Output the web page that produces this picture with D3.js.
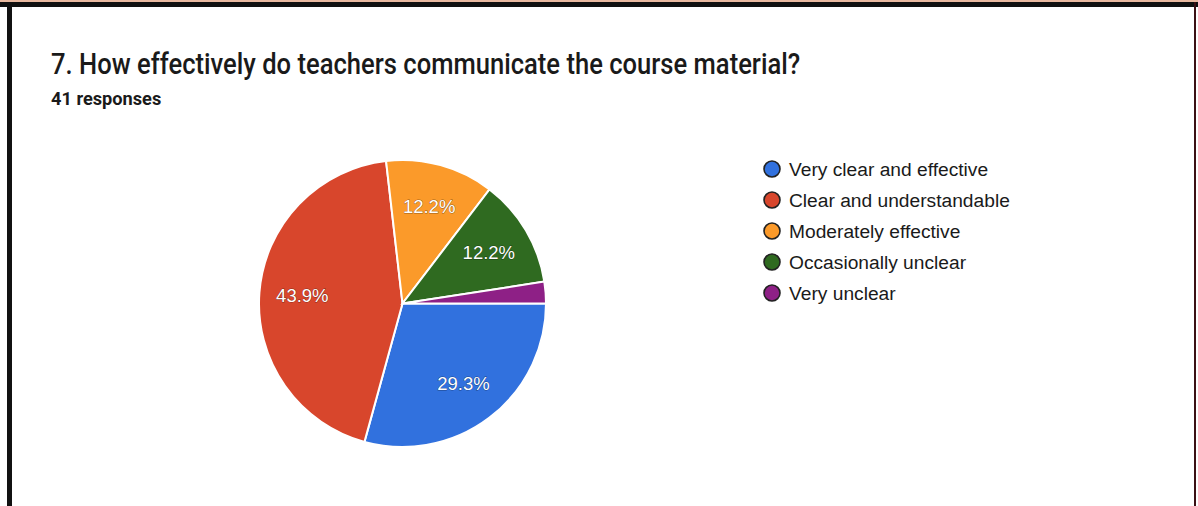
<!DOCTYPE html>
<html>
<head>
<meta charset="utf-8">
<script src="https://cdn.jsdelivr.net/npm/d3@7"></script>
<style>
  html, body { margin: 0; padding: 0; background: #fff; }
  svg { display: block; }
</style>
</head>
<body>
<svg id="chart" width="1198" height="506"></svg>
<script>
const categories = ["Very clear and effective", "Clear and understandable", "Moderately effective", "Occasionally unclear", "Very unclear"];
const counts = [12, 18, 5, 5, 1];
const percentLabels = ["29.3%", "43.9%", "12.2%", "12.2%", ""];
const colors = ["#3171de", "#d8462c", "#fb9a2a", "#2f6a20", "#8e2086"];
const titleText = "7. How effectively do teachers communicate the course material?";
const subtitleText = "41 responses";

const svg = d3.select("#chart");
const W = 1198, H = 506;

svg.append("rect").attr("x", 0).attr("y", 0).attr("width", W).attr("height", H).attr("fill", "#fff");
svg.append("rect").attr("x", 0).attr("y", 0).attr("width", W).attr("height", 3).attr("fill", "#e9b9a0");

// frame
svg.append("rect").attr("x", 0).attr("y", 2).attr("width", W).attr("height", 5).attr("fill", "#111");
svg.append("rect").attr("x", 7).attr("y", 2).attr("width", 5).attr("height", H).attr("fill", "#111");
svg.append("rect").attr("x", 1194).attr("y", 2).attr("width", 2).attr("height", H).attr("fill", "#3a1014");

svg.append("text")
  .attr("transform", "translate(51,74) scale(1,1.12)")
  .attr("font-family", "Roboto, 'Noto Sans', sans-serif")
  .attr("font-size", 25.6)
  .attr("font-weight", 500)
  .attr("fill", "#1a1a1a")
  .text(titleText);

svg.append("text")
  .attr("transform", "translate(51,105) scale(1,1.05)")
  .attr("font-family", "Roboto, 'Noto Sans', sans-serif")
  .attr("font-size", 18.2)
  .attr("font-weight", "bold")
  .attr("fill", "#1a1a1a")
  .text(subtitleText);

const cx = 402.5, cy = 303.5, R = 143.5;
const pie = d3.pie().sort(null).value(d => d)
  .startAngle(Math.PI / 2).endAngle(Math.PI / 2 + 2 * Math.PI);
const arcs = pie(counts);
const arc = d3.arc().innerRadius(0).outerRadius(R);
const labelArc = d3.arc().innerRadius(R * 0.7).outerRadius(R * 0.7);

const g = svg.append("g").attr("transform", `translate(${cx},${cy})`);
g.selectAll("path.slice").data(arcs).join("path")
  .attr("class", "slice")
  .attr("d", arc)
  .attr("fill", (d, i) => colors[i])
  .attr("stroke", "#fff")
  .attr("stroke-width", 2);

g.selectAll("text.lbl").data(arcs).join("text")
  .attr("class", "lbl")
  .attr("transform", d => `translate(${labelArc.centroid(d)})`)
  .attr("text-anchor", "middle")
  .attr("dy", "0.35em")
  .attr("font-family", "Arial, 'Liberation Sans', sans-serif")
  .attr("font-size", 18.5)
  .attr("fill", "#fff")
  .attr("stroke", "rgba(0,0,0,0.45)")
  .attr("stroke-width", 0.8)
  .attr("paint-order", "stroke")
  .text((d, i) => percentLabels[i]);

const legend = svg.append("g").attr("transform", "translate(772,169)");
const items = legend.selectAll("g").data(categories).join("g")
  .attr("transform", (d, i) => `translate(0,${i * 31})`);
items.append("circle")
  .attr("r", 8)
  .attr("fill", (d, i) => colors[i])
  .attr("stroke", "#222")
  .attr("stroke-width", 1.6);
items.append("text")
  .attr("x", 17).attr("dy", "0.36em")
  .attr("font-family", "Arial, 'Liberation Sans', sans-serif")
  .attr("font-size", 19.2)
  .attr("fill", "#1a1a1a")
  .text(d => d);
</script>
</body>
</html>
